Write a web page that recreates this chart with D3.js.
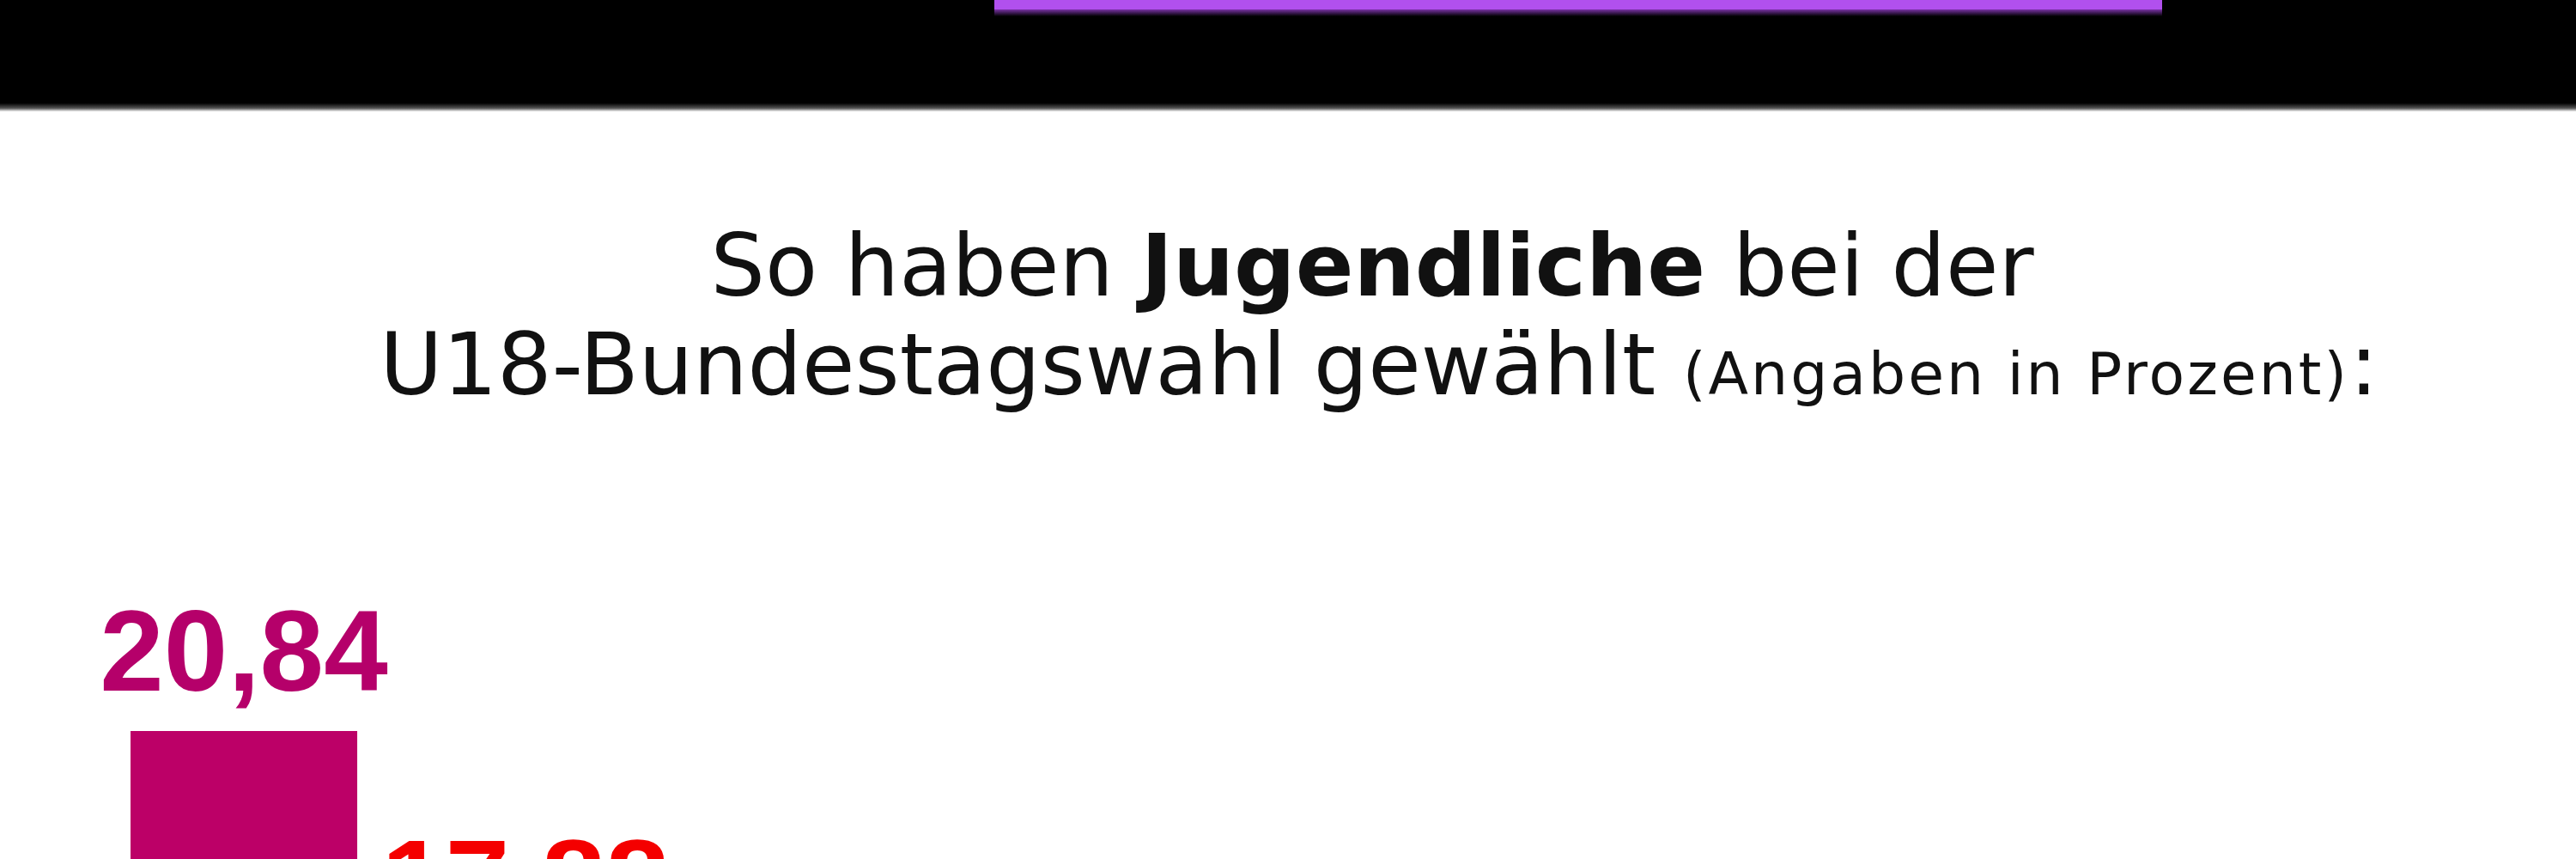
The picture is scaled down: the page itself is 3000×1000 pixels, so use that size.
<!DOCTYPE html>
<html>
<head>
<meta charset="utf-8">
<script src="https://cdn.jsdelivr.net/npm/d3@7"></script>
<style>
  html, body { margin: 0; padding: 0; background: #fff; }
  svg { display: block; }
</style>
</head>
<body>
<div id="chart"></div>
<script>
// U18-Bundestagswahl, values in percent (only the top of the chart is visible)
var parties = ["Die Linke", "SPD"];
var values = [20.84, 17.88];
var labels = ["20,84", "17,88"];
var barColors = ["#bc0067", "#f40000"];
var labelColors = ["#b5006a", "#f40000"];

var width = 3000, height = 1000;

var svg = d3.select("#chart")
    .append("svg")
    .attr("width", width)
    .attr("height", height);

var defs = svg.append("defs");

var fade = defs.append("linearGradient")
    .attr("id", "band-fade")
    .attr("x1", 0).attr("y1", 0).attr("x2", 0).attr("y2", 1);
fade.append("stop").attr("offset", "0%").attr("stop-color", "#000");
fade.append("stop").attr("offset", "60%").attr("stop-color", "#555");
fade.append("stop").attr("offset", "100%").attr("stop-color", "#fff");

var purpleFade = defs.append("linearGradient")
    .attr("id", "purple-fade")
    .attr("x1", 0).attr("y1", 0).attr("x2", 0).attr("y2", 1);
purpleFade.append("stop").attr("offset", "0%").attr("stop-color", "#7a33a6");
purpleFade.append("stop").attr("offset", "100%").attr("stop-color", "#000");

// header band
svg.append("rect")
    .attr("x", 0).attr("y", 0)
    .attr("width", width).attr("height", 120)
    .attr("fill", "#000");
svg.append("rect")
    .attr("x", 0).attr("y", 120)
    .attr("width", width).attr("height", 10)
    .attr("fill", "url(#band-fade)");

// purple button, cut at the top
svg.append("rect")
    .attr("x", 1158).attr("y", 0)
    .attr("width", 1360).attr("height", 11)
    .attr("fill", "#b150ee");
svg.append("rect")
    .attr("x", 1158).attr("y", 11)
    .attr("width", 1360).attr("height", 8)
    .attr("fill", "url(#purple-fade)");

// title
var titleFont = "'DejaVu Sans', Lato, sans-serif";

var line1 = svg.append("text")
    .attr("x", 1598)
    .attr("y", 344)
    .attr("text-anchor", "middle")
    .style("font-family", titleFont)
    .style("font-size", "100px")
    .attr("fill", "#111");
line1.append("tspan").text("So haben ");
line1.append("tspan").style("font-weight", "bold").text("Jugendliche");
line1.append("tspan").text(" bei der");

var line2 = svg.append("text")
    .attr("x", 1606)
    .attr("y", 459)
    .attr("text-anchor", "middle")
    .style("font-family", titleFont)
    .style("font-size", "100px")
    .attr("fill", "#111");
line2.append("tspan").text("U18-Bundestagswahl gewählt ");
line2.append("tspan")
    .style("font-size", "68px")
    .style("letter-spacing", "3px")
    .text("(Angaben in Prozent)");
line2.append("tspan").text(":");

// bars
var x = d3.scaleBand()
    .domain(parties)
    .range([152, 744])
    .paddingInner(0.195)
    .paddingOuter(0);

var y = d3.scaleLinear()
    .domain([0, 20.84])
    .range([2731, 851]);

var data = parties.map(function (p, i) {
    return { party: p, value: values[i], label: labels[i], color: barColors[i], labelColor: labelColors[i] };
});

svg.selectAll("rect.bar")
    .data(data)
    .enter()
    .append("rect")
    .attr("class", "bar")
    .attr("x", function (d) { return x(d.party); })
    .attr("y", function (d) { return y(d.value); })
    .attr("width", x.bandwidth())
    .attr("height", function (d) { return y(0) - y(d.value); })
    .attr("fill", function (d) { return d.color; });

svg.selectAll("text.value")
    .data(data)
    .enter()
    .append("text")
    .attr("class", "value")
    .attr("x", function (d) { return x(d.party) + x.bandwidth() / 2; })
    .attr("y", function (d) { return y(d.value) - 47; })
    .attr("text-anchor", "middle")
    .style("font-family", "'Liberation Sans', Arial, sans-serif")
    .style("font-weight", "bold")
    .style("font-size", "134px")
    .attr("fill", function (d) { return d.labelColor; })
    .text(function (d) { return d.label; });
</script>
</body>
</html>
